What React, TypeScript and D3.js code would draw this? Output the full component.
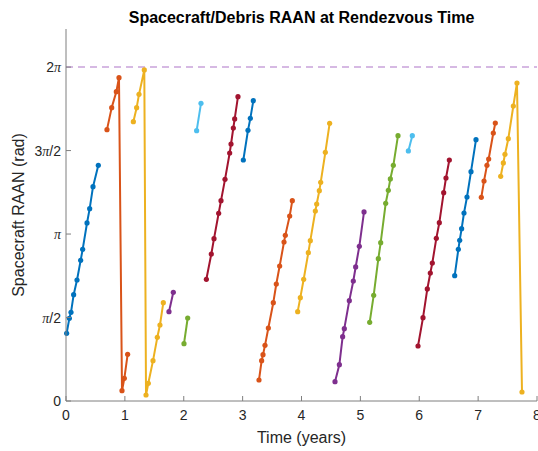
import React from 'react';
import * as d3 from 'd3';

// time of each rendezvous (years), one list per spacecraft/debris pass
const seriesTimes: number[][] = [
  [0.011, 0.057, 0.085, 0.13, 0.187, 0.249, 0.283, 0.357, 0.402, 0.459, 0.549],
  [0.696, 0.776, 0.855, 0.9, 0.951, 0.991, 1.047],
  [1.144, 1.2, 1.24, 1.33, 1.359, 1.398, 1.478, 1.551, 1.596, 1.653],
  [1.749, 1.823],
  [2.004, 2.067],
  [2.219, 2.293],
  [2.384, 2.468, 2.514, 2.593, 2.633, 2.701, 2.78, 2.803, 2.842, 2.865, 2.921],
  [3.012, 3.091, 3.131, 3.182],
  [3.278, 3.323, 3.346, 3.38, 3.437, 3.521, 3.572, 3.629, 3.703, 3.725, 3.799, 3.844],
  [3.935, 3.98, 4.037, 4.116, 4.15, 4.235, 4.258, 4.303, 4.326, 4.405, 4.478],
  [4.569, 4.643, 4.699, 4.727, 4.812, 4.88, 4.92, 4.982, 5.062],
  [5.158, 5.226, 5.305, 5.345, 5.43, 5.475, 5.509, 5.56, 5.639],
  [5.815, 5.882],
  [5.979, 6.064, 6.137, 6.188, 6.222, 6.29, 6.341, 6.415, 6.454, 6.511],
  [6.602, 6.664, 6.687, 6.72, 6.76, 6.811, 6.879, 6.964],
  [7.054, 7.1, 7.15, 7.179, 7.258, 7.292],
  [7.383, 7.428, 7.456, 7.513, 7.598, 7.66, 7.745],
];

// spacecraft RAAN (rad) at those times
const seriesRaan: number[][] = [
  [1.274, 1.556, 1.669, 2.0, 2.277, 2.647, 2.854, 3.35, 3.619, 4.033, 4.435],
  [5.106, 5.52, 5.82, 6.084, 0.194, 0.427, 0.878],
  [5.256, 5.52, 5.77, 6.229, 0.113, 0.333, 0.759, 1.198, 1.43, 1.85],
  [1.681, 2.045],
  [1.078, 1.562],
  [5.087, 5.602],
  [2.29, 2.766, 3.055, 3.532, 3.77, 4.171, 4.667, 4.836, 5.137, 5.307, 5.727],
  [4.535, 5.093, 5.319, 5.652],
  [0.395, 0.759, 0.872, 1.047, 1.374, 1.85, 2.202, 2.54, 2.992, 3.117, 3.481, 3.77],
  [1.681, 1.945, 2.29, 2.791, 3.017, 3.575, 3.707, 3.958, 4.115, 4.68, 5.225],
  [0.364, 0.684, 1.21, 1.361, 1.888, 2.258, 2.522, 2.911, 3.557],
  [1.481, 1.989, 2.678, 2.979, 3.72, 3.965, 4.178, 4.435, 4.993],
  [4.705, 4.993],
  [1.035, 1.568, 2.108, 2.409, 2.597, 3.061, 3.355, 3.92, 4.196, 4.535],
  [2.358, 2.854, 3.024, 3.243, 3.538, 3.839, 4.316, 4.918],
  [3.833, 4.14, 4.435, 4.554, 5.043, 5.231],
  [4.228, 4.479, 4.642, 4.936, 5.551, 5.984, 0.169],
];

const xTicks = [0, 1, 2, 3, 4, 5, 6, 7, 8];
const yTickValues = [0, Math.PI / 2, Math.PI, (3 * Math.PI) / 2, 2 * Math.PI];
// [before pi, has pi, after pi]
const yTickLabels: [string, boolean, string][] = [
  ['0', false, ''],
  ['', true, '/2'],
  ['', true, ''],
  ['3', true, '/2'],
  ['2', true, ''],
];

// matlab default colour order
const colorOrder = ['#0072BD', '#D95319', '#EDB120', '#7E2F8E', '#77AC30', '#4DBEEE', '#A2142F'];

const width = 538;
const height = 451;
const margin = { left: 66, right: 1, top: 29, bottom: 50 };

export default function App() {
  const x = d3.scaleLinear().domain([0, 8]).range([margin.left, width - margin.right]);
  const y = d3.scaleLinear().domain([0, 7]).range([height - margin.bottom, margin.top]);

  const line = d3
    .line<[number, number]>()
    .x((d) => x(d[0]))
    .y((d) => y(d[1]));

  const font = 'Liberation Sans, Arial, Helvetica, sans-serif';
  const axisColor = '#7f7f7f';
  const textColor = '#262626';
  const y0 = y(0);

  return (
    <svg
      width={width}
      height={height}
      style={{ position: 'absolute', left: 0, top: 0, background: '#fff' }}
      fontFamily={font}
    >
      <rect width={width} height={height} fill="#fff" />

      {/* 2pi reference line */}
      <line
        x1={x(0)}
        x2={x(8)}
        y1={y(2 * Math.PI)}
        y2={y(2 * Math.PI)}
        stroke="#C9A3DA"
        strokeWidth={1.5}
        strokeDasharray="7,5"
      />

      {seriesTimes.map((ts, i) => {
        const pts: [number, number][] = ts.map((t, j) => [t, seriesRaan[i][j]]);
        const c = colorOrder[i % colorOrder.length];
        return (
          <g key={i}>
            <path d={line(pts) ?? ''} fill="none" stroke={c} strokeWidth={2} strokeLinejoin="round" />
            {pts.map((p, j) => (
              <circle key={j} cx={x(p[0])} cy={y(p[1])} r={2.6} fill={c} />
            ))}
          </g>
        );
      })}

      {/* axes */}
      <line x1={x(0)} x2={x(8)} y1={y0} y2={y0} stroke={axisColor} strokeWidth={1} />
      <line x1={x(0)} x2={x(0)} y1={y(7)} y2={y0} stroke={axisColor} strokeWidth={1} />

      {xTicks.map((t) => (
        <g key={t}>
          <line x1={x(t)} x2={x(t)} y1={y0} y2={y0 - 5} stroke={axisColor} />
          <text x={x(t)} y={y0 + 19} textAnchor="middle" fontSize={14} fill={textColor}>
            {t}
          </text>
        </g>
      ))}

      {yTickValues.map((v, i) => {
        const [pre, pi, post] = yTickLabels[i];
        return (
          <g key={i}>
            <line x1={x(0)} x2={x(0) + 5} y1={y(v)} y2={y(v)} stroke={axisColor} />
            <text x={x(0) - 5} y={y(v) + 5} textAnchor="end" fontSize={14} fill={textColor}>
              {pre}
              {pi && (
                <tspan fontFamily="Liberation Serif, serif" fontStyle="italic">
                  π
                </tspan>
              )}
              {post}
            </text>
          </g>
        );
      })}

      <text x={(x(0) + x(8)) / 2} y={443} textAnchor="middle" fontSize={16} fill={textColor}>
        Time (years)
      </text>
      <text
        transform={`translate(24, ${(y(7) + y0) / 2}) rotate(-90)`}
        textAnchor="middle"
        fontSize={16}
        fill={textColor}
      >
        Spacecraft RAAN (rad)
      </text>
      <text
        x={(x(0) + x(8)) / 2}
        y={23}
        textAnchor="middle"
        fontSize={16}
        fontWeight="bold"
        fill="#000"
      >
        Spacecraft/Debris RAAN at Rendezvous Time
      </text>
    </svg>
  );
}
